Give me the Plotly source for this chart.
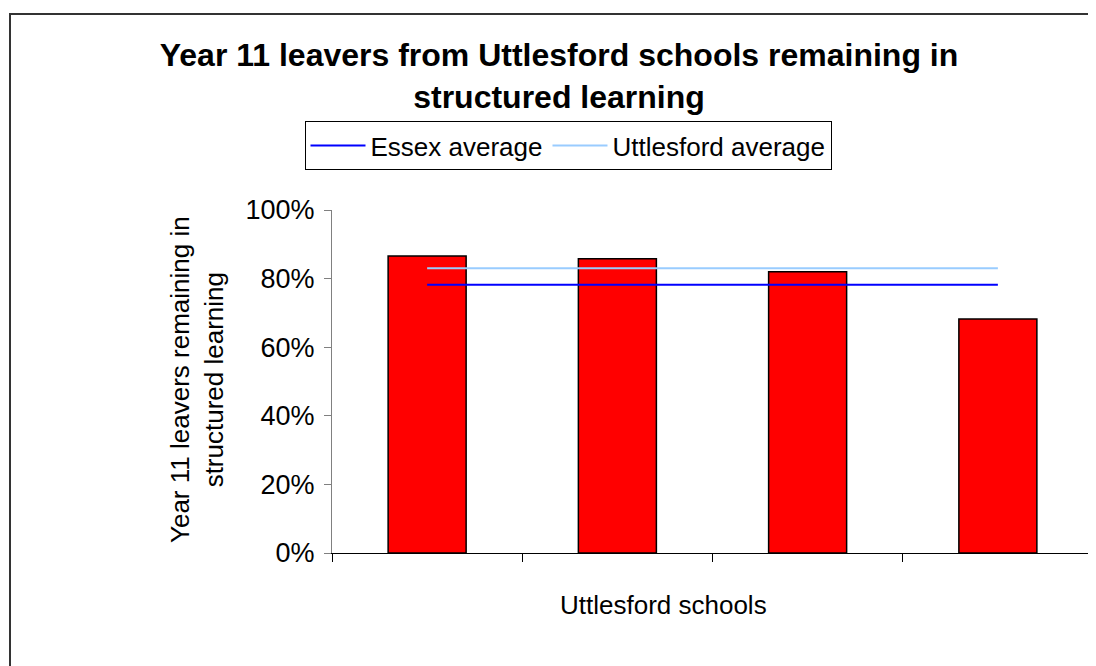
import plotly.graph_objects as go

schools = ["School 1", "School 2", "School 3", "School 4"]
remaining = [0.866, 0.858, 0.820, 0.682]
essex_avg = [0.782, 0.782, 0.782, 0.782]
uttlesford_avg = [0.830, 0.830, 0.830, 0.830]
y_ticks = [0, 0.2, 0.4, 0.6, 0.8, 1.0]
y_tick_labels = ["0%", "20%", "40%", "60%", "80%", "100%"]

FONT = "Liberation Sans, Arial, sans-serif"

fig = go.Figure()
fig.add_trace(go.Bar(
    x=schools, y=remaining, width=0.41,
    marker=dict(color="#FF0000", line=dict(color="#000000", width=1.5)),
    showlegend=False, hoverinfo="skip"))
fig.add_trace(go.Scatter(
    x=schools, y=essex_avg, mode="lines", name="Essex average",
    line=dict(color="#0000FF", width=2)))
fig.add_trace(go.Scatter(
    x=schools, y=uttlesford_avg, mode="lines", name="Uttlesford average",
    line=dict(color="#99CCFF", width=2)))

OFF = 8  # page body margin
W, H = 1096 - OFF, 666 - OFF
L, R, T, B = 332 - OFF, 1093 - OFF, 210 - OFF, 553 - OFF
pw, ph = R - L, B - T

def px(x):
    return (x - OFF - L) / pw

def py(y):
    return (B - (y - OFF)) / ph

fig.update_layout(
    width=W, height=H,
    margin=dict(l=L, r=W - R, t=T, b=H - B, autoexpand=False),
    paper_bgcolor="white", plot_bgcolor="white",
    font=dict(family=FONT, color="black", size=26),
    title=dict(
        text="<b>Year 11 leavers from Uttlesford schools remaining in<br>structured learning</b>",
        x=(559 - OFF) / W, xanchor="center", y=1 - 58 / H, yanchor="top",
        font=dict(family=FONT, size=32, color="black")),
    legend=dict(
        orientation="h", x=px(568), xanchor="center", y=py(121), yanchor="top",
        bordercolor="black", borderwidth=1, bgcolor="white",
        font=dict(family=FONT, size=26, color="black"),
        itemwidth=55, tracegroupgap=0),
    xaxis=dict(
        showticklabels=False, showgrid=False, zeroline=False,
        showline=True, linecolor="black", linewidth=1,
        ticks="outside", tickson="boundaries", ticklen=8, tickcolor="black",
        range=[-0.5, 3.5]),
    yaxis=dict(
        range=[0, 1], tickvals=y_ticks, ticktext=y_tick_labels,
        showgrid=False, zeroline=False,
        showline=True, linecolor="#808080", linewidth=1,
        ticks="outside", ticklen=7, tickcolor="#808080", ticklabelstandoff=4,
        tickfont=dict(family=FONT, size=27, color="black")),
    annotations=[
        dict(text="Uttlesford schools", xref="paper", yref="paper",
             x=px(663), y=py(605), xanchor="center", yanchor="middle",
             showarrow=False, font=dict(family=FONT, size=26, color="black")),
        dict(text="Year 11 leavers remaining in<br>structured learning",
             xref="paper", yref="paper", textangle=-90,
             x=px(197), y=py(380), xanchor="center", yanchor="middle",
             showarrow=False, font=dict(family=FONT, size=26, color="black")),
    ],
    shapes=[
        dict(type="rect", xref="paper", yref="paper",
             x0=px(10), x1=px(1120), y0=py(720), y1=py(14),
             line=dict(color="#333333", width=2), fillcolor="rgba(0,0,0,0)",
             layer="below"),
    ],
)

fig.write_html("out.html")
